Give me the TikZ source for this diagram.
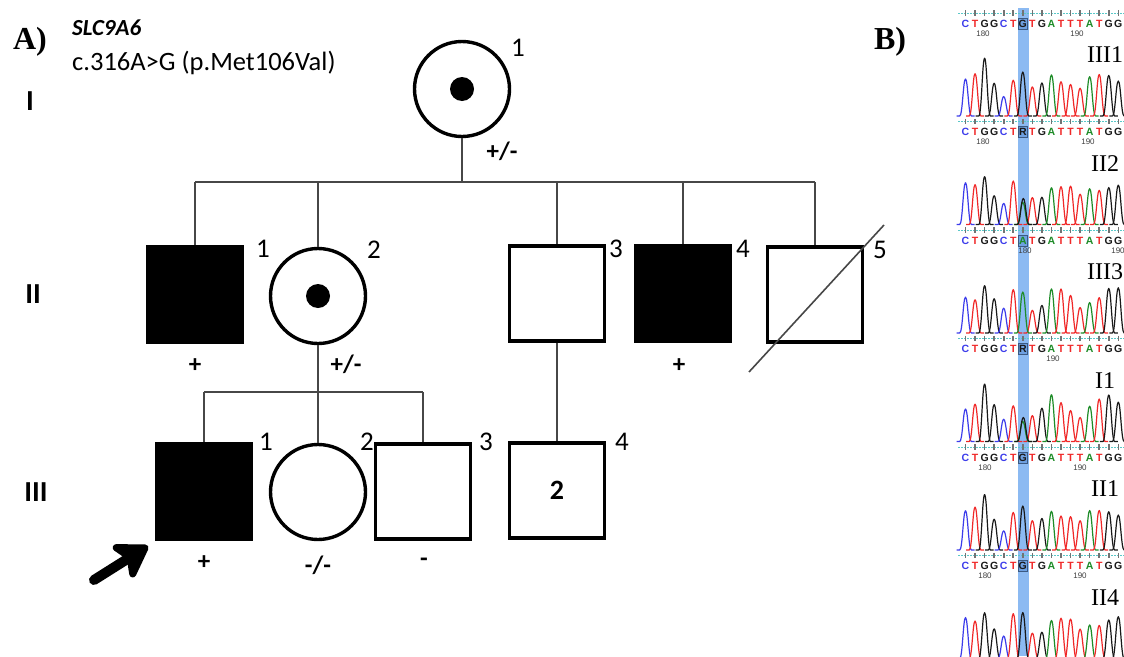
\documentclass[tikz,border=0pt]{standalone}
\usepackage{fontspec}
\setmainfont{Liberation Serif}
\newfontfamily\pedf{Carlito}
\newfontfamily\seqf{Liberation Sans}
\usetikzlibrary{arrows.meta}
\definecolor{colC}{RGB}{60,60,235}
\definecolor{colT}{RGB}{240,40,40}
\definecolor{colG}{RGB}{25,25,25}
\definecolor{colA}{RGB}{30,140,40}
\definecolor{bandblue}{RGB}{140,186,242}
\definecolor{tickteal}{RGB}{90,200,200}
\definecolor{boxedge}{RGB}{60,90,130}
\definecolor{boxfill}{RGB}{110,160,225}
\newcommand{\pk}[4]{\draw[#4, peak] (#1-9,#2) -- (#1-5.8,#2) .. controls (#1-3,#2) and (#1-2.3,#2-#3) .. (#1,#2-#3) .. controls (#1+2.3,#2-#3) and (#1+3,#2) .. (#1+5.8,#2) -- (#1+9,#2);}
\begin{document}
\begin{tikzpicture}[x=1pt,y=-1pt,
  male/.style={draw, rectangle, line width=3.4pt, minimum size=95pt, inner sep=0pt},
  female/.style={draw, circle, line width=3.4pt, minimum size=95pt, inner sep=0pt},
  aff/.style={fill=black},
  cdot/.style={circle, fill=black, minimum size=24pt, inner sep=0pt},
  link/.style={line width=1.6pt, draw=black!72},
  num/.style={font=\pedf\fontsize{27}{27}\selectfont, inner sep=0pt},
  geno/.style={font=\pedf\bfseries\fontsize{25}{25}\selectfont, inner sep=0pt},
  gen/.style={font=\pedf\bfseries\fontsize{29}{29}\selectfont, inner sep=0pt},
  panel/.style={font=\bfseries\fontsize{32}{32}\selectfont, inner sep=0pt},
  peak/.style={line width=1.2pt, line join=round},
  seqletter/.style={font=\seqf\bfseries\fontsize{10.5}{10.5}\selectfont, inner sep=0pt},
  seqnum/.style={font=\seqf\fontsize{8}{8}\selectfont, text=black!75, inner sep=0pt},
  boxlet/.style={seqletter, draw=boxedge, fill=boxfill, line width=0.8pt, minimum width=9pt, minimum height=11pt},
  tickline/.style={tickteal, line width=0.8pt, dash pattern=on 1.5pt off 1.5pt},
  tickmark/.style={black!55, line width=1.6pt},
  samplab/.style={font=\fontsize{24}{24}\selectfont, inner sep=0pt},
]
\fill[white] (0,0) rectangle (1124,656);
\useasboundingbox (0,0) rectangle (1124,656);

% ---------------- Panel A: pedigree ----------------
\node[panel] (pA) at (30,42) {A)};
\node[font=\pedf\bfseries\itshape\fontsize{23}{23}\selectfont, anchor=west, inner sep=0pt] (gene) at (72,28) {SLC9A6};
\node[font=\pedf\fontsize{26.5}{26.5}\selectfont, anchor=west, inner sep=0pt] (var) at (72,63) {c.316A>G (p.Met106Val)};

\node[gen] (gI) at (30,101) {I};
\node[gen] (gII) at (33,294) {II};
\node[gen] (gIII) at (36,492) {III};

\node[female] (I1) at (462,89) {};
\node[cdot] (I1d) at (I1.center) {};
\node[male, aff] (II1) at (195,294.5) {};
\node[female] (II2) at (318,296) {};
\node[cdot] (II2d) at (II2.center) {};
\node[male] (II3) at (557,293.5) {};
\node[male, aff] (II4) at (683,293.5) {};
\node[male] (II5) at (815,294.5) {};
\node[male, aff] (III1) at (204,491.5) {};
\node[female] (III2) at (318,492) {};
\node[male] (III3) at (423,491.5) {};
\node[male, font=\pedf\bfseries\fontsize{28}{28}\selectfont] (III4) at (557,490.5) {2};

\coordinate (sA) at (195,182);
\coordinate (sB) at (815,182);
\draw[link] (I1.south) -- (I1.south |- sA);
\draw[link] (sA) -- (sB);
\draw[link] (sA) -- (II1.north);
\draw[link] (II2.north |- sA) -- (II2.north);
\draw[link] (II3.north |- sA) -- (II3.north);
\draw[link] (II4.north |- sA) -- (II4.north);
\draw[link] (sB) -- (II5.north);

\coordinate (sC) at (204,392);
\coordinate (sD) at (423,392);
\draw[link] (II2.south) -- (II2.south |- sC);
\draw[link] (sC) -- (sD);
\draw[link] (sC) -- (III1.north);
\draw[link] (III2.north |- sC) -- (III2.north);
\draw[link] (sD) -- (III3.north);
\draw[link] (II3.south) -- (III4.north);

\coordinate (slA) at (749,372);
\coordinate (slB) at (884,225);
\draw[link] (slA) -- (slB);

\node[num] (nI1) at (518,48) {1};
\node[geno] (gtI1) at (502,151) {+/-};
\node[num] (nII1) at (263,249) {1};
\node[geno] (gtII1) at (195,366) {+};
\node[num] (nII2) at (374,250) {2};
\node[geno] (gtII2) at (346,364) {+/-};
\node[num] (nII3) at (616,249) {3};
\node[num] (nII4) at (743,249) {4};
\node[geno] (gtII4) at (679,366) {+};
\node[num] (nII5) at (880,250) {5};
\node[num] (nIII1) at (266,442) {1};
\node[geno] (gtIII1) at (204,563) {+};
\node[num] (nIII2) at (367,442) {2};
\node[geno] (gtIII2) at (318,565) {-/-};
\node[num] (nIII3) at (486,442) {3};
\node[geno] (gtIII3) at (424,562) {-};
\node[num] (nIII4) at (622,442) {4};

\coordinate (arT) at (94,580);
\coordinate (arH) at (148,546);
\draw[line width=10pt, line cap=round, -{Stealth[length=38pt,width=48pt,inset=10pt,round]}] (arT) -- (arH);

% ---------------- Panel B: chromatograms ----------------
\node[panel] (pB) at (890,42) {B)};
\begin{scope}
\clip (956,0) rectangle (1124,656);
\fill[bandblue] (1017.5,8) rectangle (1029,656);
\foreach \k in {0,...,5}{
  \pgfmathsetmacro{\base}{116+108.5*\k}
  \pgfmathsetmacro{\ty}{13+108.5*\k}
  \pgfmathsetmacro{\sy}{23.5+108.5*\k}
  \draw[tickline] (958,\ty) -- (1124,\ty);
  \foreach \i in {0,...,16}{
    \draw[tickmark] ({965.5+9.55*\i},\ty-2.6) -- ({965.5+9.55*\i},\ty+2.6);
  }
  \foreach \i/\lt/\hv in {0/C/37,1/T/38,2/G/52,3/G/33,4/C/22,5/T/40,7/T/26,8/G/30,9/A/42,10/T/39,11/T/35,12/T/27,13/A/35,14/T/38,15/G/42,16/G/40}{
    \pgfmathsetmacro{\hh}{\hv*(1+0.13*sin(97*\k+61*\i))}
    \pgfmathsetmacro{\cx}{965.5+9.55*\i}
    \pk{\cx}{\base}{\hh}{col\lt}
  }
  \foreach \i/\lt in {0/C,1/T,2/G,3/G,4/C,5/T,7/T,8/G,9/A,10/T,11/T,12/T,13/A,14/T,15/G,16/G}{
    \node[seqletter, text=col\lt] (s\k x\i) at ({965.5+9.55*\i},\sy) {\lt};
  }
}
% mid peaks
\pk{1022.8}{116}{44}{colG}
\pk{1022.8}{224.5}{22}{colA}
\pk{1023.3}{224.5}{26}{colG}
\pk{1022.8}{333}{41}{colA}
\pk{1022.8}{441.5}{20}{colA}
\pk{1023.3}{441.5}{24}{colG}
\pk{1022.8}{550}{44}{colG}
\pk{1022.8}{658.5}{46}{colG}
% boxed letters
\node[boxlet, text=colG] (b0) at (1022.8,23.5) {G};
\node[boxlet, text=colG] (b1) at (1022.8,132) {R};
\node[boxlet, text=colA] (b2) at (1022.8,240.5) {A};
\node[boxlet, text=colG] (b3) at (1022.8,349) {R};
\node[boxlet, text=colG] (b4) at (1022.8,457.5) {G};
\node[boxlet, text=colG] (b5) at (1022.8,566) {G};
% position numbers
\node[seqnum] (n0a) at (983,33.5) {180};
\node[seqnum] (n0b) at (1077,33.5) {190};
\node[seqnum] (n1a) at (983,142) {180};
\node[seqnum] (n1b) at (1088,142) {190};
\node[seqnum] (n2a) at (1025,250.5) {180};
\node[seqnum] (n2b) at (1118,250.5) {190};
\node[seqnum] (n3b) at (1053,359) {190};
\node[seqnum] (n4a) at (985,467.5) {180};
\node[seqnum] (n4b) at (1080,467.5) {190};
\node[seqnum] (n5a) at (985,576) {180};
\node[seqnum] (n5b) at (1080,576) {190};
% sample labels
\node[samplab] (l0) at (1105,55) {III1};
\node[samplab] (l1) at (1105,163.5) {II2};
\node[samplab] (l2) at (1105,272) {III3};
\node[samplab] (l3) at (1105,380.5) {I1};
\node[samplab] (l4) at (1105,489) {II1};
\node[samplab] (l5) at (1105,597.5) {II4};
\end{scope}
\end{tikzpicture}
\end{document}
